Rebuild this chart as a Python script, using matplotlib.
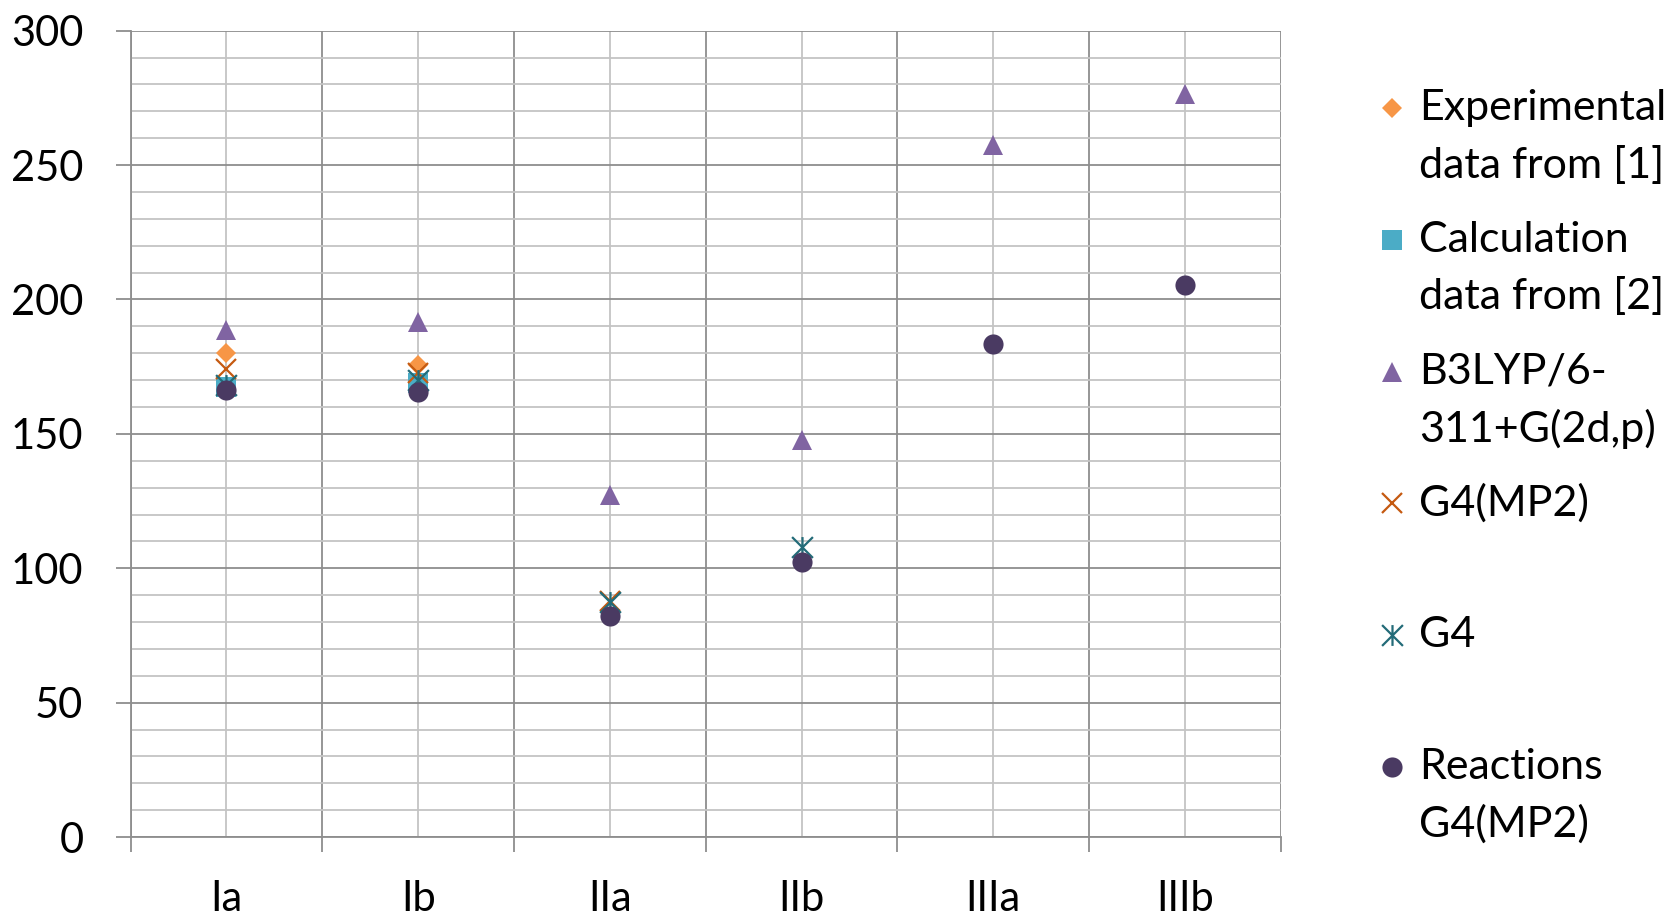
import numpy as np
import matplotlib
matplotlib.use('Agg')
import matplotlib.pyplot as plt
from matplotlib.path import Path
from matplotlib.lines import Line2D
from matplotlib.ticker import MultipleLocator, FixedLocator, NullFormatter

plt.rcParams['font.family'] = ['Lato', 'DejaVu Sans']

# данные
categories = ['Ia', 'Ib', 'IIa', 'IIb', 'IIIa', 'IIIb']
nan = np.nan
experimental = [180, 175.5, nan, nan, nan, nan]
calculation = [167.5, 169, nan, nan, nan, nan]
b3lyp = [188.5, 191.5, 127.2, 147.7, 257.5, 276.5]
g4mp2 = [174, 172.5, 88, nan, nan, nan]
g4 = [168, 170, 87.5, 107.8, nan, nan]
reactions = [166.5, 165.5, 82.4, 102.4, 183.4, 205.4]

labels = ['Experimental\ndata from [1]', 'Calculation\ndata from [2]',
          'B3LYP/6-\n311+G(2d,p)', 'G4(MP2)', 'G4', 'Reactions\nG4(MP2)']

# звёздочка как в Excel: крест + вертикаль
star = Path([(-0.5, -0.5), (0.5, 0.5), (-0.5, 0.5), (0.5, -0.5), (0, -0.5), (0, 0.5)],
            [Path.MOVETO, Path.LINETO, Path.MOVETO, Path.LINETO, Path.MOVETO, Path.LINETO])

styles = [
    dict(marker='D', ms=10.5, color='#F79646', mec='#F79646', mew=0),
    dict(marker='s', ms=14, color='#4BACC6', mec='#4BACC6', mew=0),
    dict(marker='^', ms=14, color='#8064A2', mec='#8064A2', mew=0),
    dict(marker='x', ms=15, color='#C55A11', mew=1.6),
    dict(marker=star, ms=15, color='#236B78', mew=1.6),
    dict(marker='o', ms=14.5, color='#4A3A62', mec='#4A3A62', mew=0),
]
series = [experimental, calculation, b3lyp, g4mp2, g4, reactions]

fig = plt.figure(figsize=(16.79, 9.17), dpi=100)
ax = fig.add_axes([0.0778, 0.0872, 0.685, 0.8793])

x = np.arange(len(categories))
for vals, st in zip(series, styles):
    ax.plot(x, vals, ls='none', zorder=3, clip_on=False, **st)

ax.set_xlim(-0.5, len(categories) - 0.5)
ax.set_ylim(0, 300)

# сетка
ax.yaxis.set_major_locator(MultipleLocator(50))
ax.yaxis.set_minor_locator(MultipleLocator(10))
ax.xaxis.set_major_locator(FixedLocator(np.arange(-0.5, len(categories), 1.0)))
ax.xaxis.set_major_formatter(NullFormatter())
ax.xaxis.set_minor_locator(FixedLocator(x))
ax.set_xticklabels(categories, minor=True)

ax.grid(which='minor', color='#c4c4c4', lw=1.3, zorder=0)
ax.grid(which='major', color='#8e8e8e', lw=1.3, zorder=0)
ax.set_axisbelow(True)

ax.tick_params(axis='y', which='major', length=11, width=1.3, color='#8e8e8e',
               pad=23, labelsize=30)
ax.tick_params(axis='y', which='minor', length=0)
ax.tick_params(axis='x', which='major', length=11, width=1.3, color='#8e8e8e')
ax.tick_params(axis='x', which='minor', length=0, pad=31, labelsize=30)

for s in ['top', 'right']:
    ax.spines[s].set_visible(False)
for s in ['left', 'bottom']:
    ax.spines[s].set_color('#8e8e8e')
    ax.spines[s].set_linewidth(1.3)

# легенда вручную, каждая строка отдельно
W, H = 1679, 917
mx, tx = 1391.5, 1419
y0, step, lstep = 108, 131.8, 57
for i, (lab, st) in enumerate(zip(labels, styles)):
    yy = y0 + i * step
    fig.add_artist(Line2D([mx / W], [1 - yy / H], transform=fig.transFigure,
                          ls='none', **st))
    for j, line in enumerate(lab.split('\n')):
        fig.text(tx / W, 1 - (yy + j * lstep) / H, line, fontsize=31,
                 va='center', ha='left')

fig.savefig('out.png', dpi=100)
